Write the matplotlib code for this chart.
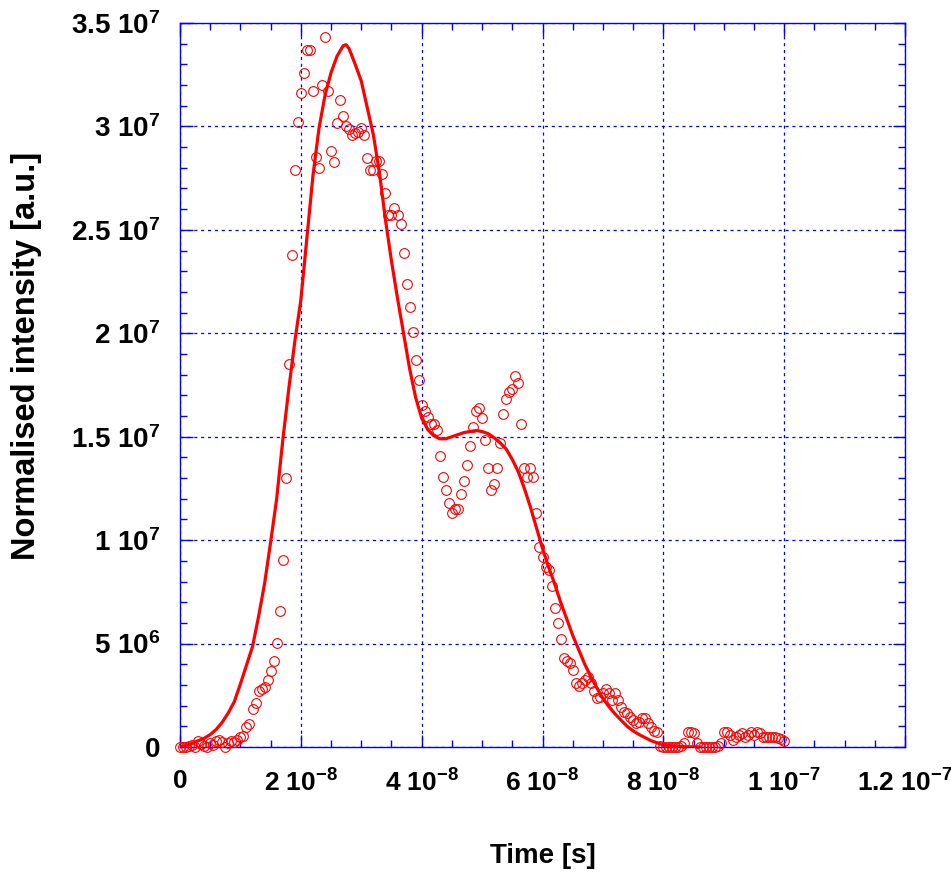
# Imports
import numpy as np
import matplotlib
matplotlib.use('Agg')
import matplotlib.pyplot as plt
from matplotlib.ticker import FixedLocator, MultipleLocator

# measured intensity, one sample every 0.5 ns from 0 to 100 ns (units of 1e6 a.u.)
step_ns = 0.5
intensity = [
    0.0, 0.0, 0.0, 0.05, 0.1, 0.0, 0.3, 0.15, 0.05, 0.0,
    0.2, 0.1, 0.3, 0.35, 0.25, 0.0, 0.2, 0.3, 0.25, 0.35,
    0.5, 0.55, 0.98, 1.1, 1.82, 2.14, 2.71, 2.79, 2.92, 3.24,
    3.68, 4.16, 5.05, 6.58, 9.05, 13.0, 18.5, 23.8, 27.9, 30.2,
    31.6, 32.6, 33.7, 33.7, 31.7, 28.5, 28.0, 32.0, 34.3, 31.7,
    28.8, 28.3, 30.15, 31.3, 30.5, 30.0, 29.86, 29.57, 29.7, 29.73,
    29.9, 29.57, 28.49, 27.88, 27.88, 28.33, 28.33, 27.72, 26.8, 25.73,
    25.73, 26.04, 25.73, 25.28, 23.9, 22.36, 21.28, 20.04, 18.7, 17.76,
    16.55, 16.23, 15.94, 15.63, 15.63, 15.31, 14.09, 13.03, 12.44, 11.8,
    11.31, 11.5, 11.5, 12.25, 12.86, 13.63, 14.55, 15.47, 16.23, 16.37,
    15.91, 14.86, 13.49, 12.44, 12.72, 13.49, 14.7, 16.08, 16.83, 17.17,
    17.31, 17.92, 17.6, 15.63, 13.49, 13.03, 13.49, 13.03, 11.31, 9.69,
    9.18, 8.7, 8.57, 7.79, 6.74, 5.99, 5.21, 4.29, 4.18, 4.05,
    3.7, 3.08, 2.95, 3.08, 3.24, 3.4, 3.08, 2.73, 2.36, 2.43,
    2.63, 2.79, 2.6, 2.27, 2.6, 2.27, 1.95, 1.71, 1.63, 1.47,
    1.3, 1.15, 1.22, 1.39, 1.39, 1.15, 0.98, 0.77, 0.74, 0.05,
    0.0, 0.0, 0.0, 0.0, 0.0, 0.0, 0.05, 0.18, 0.74, 0.74,
    0.66, 0.18, 0.0, 0.0, 0.0, 0.0, 0.0, 0.0, 0.05, 0.18,
    0.74, 0.74, 0.6, 0.34, 0.5, 0.6, 0.7, 0.48, 0.58, 0.73,
    0.58, 0.73, 0.68, 0.48, 0.48, 0.48, 0.48, 0.48, 0.45, 0.4,
    0.3,
]

# fitted curve (ns, 1e6 a.u.)
fit_t = [0, 1, 2, 3, 4, 5, 6, 7, 8, 9, 10, 11, 12, 13, 14, 15, 16, 17, 18, 19,
         20, 21, 22, 23, 24, 25, 26, 27, 27.5, 28, 29, 30, 31, 32, 33, 34, 35, 36, 37, 38,
         39, 40, 41, 42, 43, 44, 45, 46, 47, 48, 49, 50, 51, 52, 53, 54, 55, 56, 57, 58,
         59, 60, 61, 62, 63, 64, 65, 66, 67, 68, 69, 70, 71, 72, 73, 74, 75, 76, 77, 78,
         79, 80, 81, 82, 84, 86]
fit_y = [0.0, 0.05, 0.18, 0.3, 0.42, 0.6, 0.85, 1.2, 1.65, 2.2, 3.05, 3.95, 4.85, 6.3, 7.9, 9.9, 12.0, 14.8, 17.3, 19.6,
         21.6, 24.6, 27.6, 29.9, 31.5, 32.6, 33.4, 33.9, 33.95, 33.75, 33.0, 32.2, 30.9, 29.6, 27.8, 25.5, 23.5, 21.7, 20.0, 18.3,
         16.9, 15.9, 15.35, 15.05, 14.9, 14.9, 15.0, 15.1, 15.2, 15.25, 15.3, 15.25, 15.15, 14.95, 14.7, 14.4, 13.9, 13.3, 12.5, 11.6,
         10.6, 9.6, 8.7, 7.9, 7.0, 6.2, 5.4, 4.7, 4.0, 3.4, 2.85, 2.35, 1.95, 1.6, 1.3, 1.0, 0.78, 0.6, 0.45, 0.3,
         0.2, 0.1, 0.06, 0.03, 0.01, 0.0]

xticks = [0, 2e-8, 4e-8, 6e-8, 8e-8, 1e-7, 1.2e-7]
xticklabels = ['0', '2 10$^{-8}$', '4 10$^{-8}$', '6 10$^{-8}$', '8 10$^{-8}$', '1 10$^{-7}$', '1.2 10$^{-7}$']
yticks = [0, 5e6, 1e7, 1.5e7, 2e7, 2.5e7, 3e7, 3.5e7]
yticklabels = ['0', '5 10$^{6}$', '1 10$^{7}$', '1.5 10$^{7}$', '2 10$^{7}$', '2.5 10$^{7}$', '3 10$^{7}$', '3.5 10$^{7}$']

BLUE = '#0000ff'
RED = '#ff0000'

plt.rcParams['font.family'] = ['Liberation Sans', 'DejaVu Sans']
plt.rcParams['font.weight'] = 'bold'
plt.rcParams['mathtext.fontset'] = 'custom'
plt.rcParams['mathtext.rm'] = 'Liberation Sans:bold'
plt.rcParams['mathtext.bf'] = 'Liberation Sans:bold'
plt.rcParams['mathtext.default'] = 'bf'


def fig1():
    fig = plt.figure(figsize=(9.51, 8.72), dpi=100)
    ax = fig.add_axes([180/951, 125/872, 725/951, 724/872])

    t = np.arange(len(intensity)) * step_ns * 1e-9
    y = np.array(intensity) * 1e6
    ax.plot(np.array(fit_t) * 1e-9, np.array(fit_y) * 1e6, color=RED, lw=2.3, zorder=3)
    ax.plot(t, y, 'o', mfc='none', mec=RED, mew=0.8, ms=7, zorder=4, clip_on=False)

    ax.set_xlim(0, 1.2e-7)
    ax.set_ylim(0, 3.5e7)

    ax.xaxis.set_major_locator(FixedLocator(xticks))
    ax.yaxis.set_major_locator(FixedLocator(yticks))
    ax.set_xticklabels(xticklabels)
    ax.set_yticklabels(yticklabels)
    ax.xaxis.set_minor_locator(MultipleLocator(5e-9))
    ax.yaxis.set_minor_locator(MultipleLocator(1e6))

    ax.tick_params(which='both', direction='in', top=True, right=True, color=BLUE, width=1)
    ax.tick_params(which='major', length=9)
    ax.tick_params(which='minor', length=5)
    ax.tick_params(axis='x', which='major', pad=16, labelsize=19)
    ax.tick_params(axis='y', which='major', pad=14, labelsize=20)
    for s in ax.spines.values():
        s.set_color(BLUE)
        s.set_linewidth(1.0)

    ax.grid(True, which='major', color=BLUE, lw=0.9, linestyle=(0, (2.5, 3)))

    ax.set_xlabel('Time [s]', fontsize=20, fontweight='bold')
    ax.set_ylabel('Normalised intensity [a.u.]', fontsize=23.5, fontweight='bold')
    ax.xaxis.set_label_coords(0.5, -0.133)
    ax.yaxis.set_label_coords(-0.19, 0.54)

    fig.savefig('out.png', dpi=100)


if __name__ == '__main__':
    fig1()
